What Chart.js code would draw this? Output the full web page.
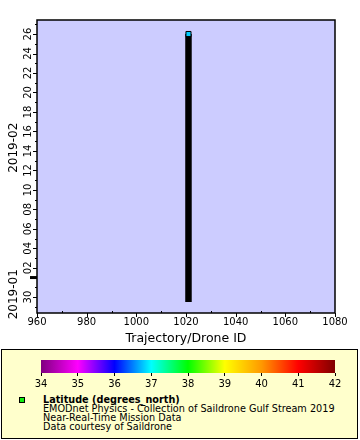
<!DOCTYPE html>
<html>
<head>
<meta charset="utf-8">
<script src="https://cdn.jsdelivr.net/npm/chart.js@4"></script>
<style>
  html,body{margin:0;padding:0;background:#fff;}
  #wrap{position:relative;width:360px;height:440px;overflow:hidden;font-family:"DejaVu Sans",sans-serif;}
  #main{position:absolute;left:0;top:0;}
  #legbox{position:absolute;left:1px;top:349px;width:357px;height:90px;box-sizing:border-box;background:#ffffcc;border:1px solid #000;}
  #cbar{position:absolute;left:0;top:349px;}
  #mark{position:absolute;left:19px;top:397px;width:6px;height:6px;box-sizing:border-box;background:#11ee11;border:1px solid #000;}
  #legtext{position:absolute;left:43px;top:395px;font-size:9.7px;line-height:9px;color:#000;white-space:nowrap;}
  #legtext b{font-weight:bold;}
</style>
</head>
<body>
<div id="wrap">
  <canvas id="main" width="360" height="349"></canvas>
  <div id="legbox"></div>
  <canvas id="cbar" width="360" height="45"></canvas>
  <div id="mark"></div>
  <div id="legtext"><b>Latitude (degrees_north)</b><br>EMODnet Physics - Collection of Saildrone Gulf Stream 2019<br>Near-Real-Time Mission Data<br>Data courtesy of Saildrone</div>
</div>
<script>
// track of drone 1021; time in days from 2019-02-01 00:00
const trackId=[1021,1021];
const trackDay=[-2.5,25.0];
const lastLat=36.8;

// time axis ticks (days from 2019-02-01)
const yMajor=[-2,1,3,5,7,9,11,13,15,17,19,21,23,25];
const yMajorLabels=['30','02','04','06','08','10','12','14','16','18','20','22','24','26'];
const yMinor=[-3,-1,2,4,6,8,10,12,14,16,18,20,22,24,26];
const monthBreak=0;
const months=[{t:'2019-01',from:-4,to:0},{t:'2019-02',from:0,to:27}];
const xMinor=[970,990,1010,1030,1050,1070];

// colour bar
const cbValues=[34,35,36,37,38,39,40,41,42];
const cbColors=['#800080','#ff00ff','#0000ff','#00ffff','#00ff00','#ffff00','#ff9900','#ff0000','#800000'];

function hex(c){return [parseInt(c.substr(1,2),16),parseInt(c.substr(3,2),16),parseInt(c.substr(5,2),16)];}
function colorOf(v){
  for(let i=0;i<cbValues.length-1;i++){
    if(v>=cbValues[i]&&v<=cbValues[i+1]){
      const f=(v-cbValues[i])/(cbValues[i+1]-cbValues[i]);
      const a=hex(cbColors[i]),b=hex(cbColors[i+1]);
      return 'rgb('+a.map((x,k)=>Math.round(x+(b[k]-x)*f)).join(',')+')';
    }
  }
  return '#000';
}

Chart.defaults.font.family='"DejaVu Sans", sans-serif';
Chart.defaults.color='#000';
Chart.defaults.animation=false;

const framePlugin={
  id:'frame',
  beforeDatasetsDraw(chart){
    const {ctx,chartArea:a}=chart;
    ctx.save(); ctx.fillStyle='#ccccff'; ctx.fillRect(a.left,a.top,a.right-a.left,a.bottom-a.top); ctx.restore();
  },
  afterDraw(chart){
    const {ctx,chartArea:a}=chart; const ys=chart.scales.y, xs=chart.scales.x;
    ctx.save();
    ctx.strokeStyle='#000'; ctx.lineWidth=1.5;
    ctx.strokeRect(a.left,a.top,a.right-a.left,a.bottom-a.top);
    ctx.lineWidth=1;
    ctx.beginPath();
    yMajor.forEach(v=>{const p=Math.round(ys.getPixelForValue(v))+0.5; ctx.moveTo(a.left-4,p); ctx.lineTo(a.left,p);});
    yMinor.forEach(v=>{const p=Math.round(ys.getPixelForValue(v))+0.5; ctx.moveTo(a.left-2,p); ctx.lineTo(a.left,p);});
    xs.ticks.forEach(t=>{const p=Math.round(xs.getPixelForValue(t.value))+0.5; ctx.moveTo(p,a.bottom); ctx.lineTo(p,a.bottom+4);});
    xMinor.forEach(v=>{const p=Math.round(xs.getPixelForValue(v))+0.5; ctx.moveTo(p,a.bottom); ctx.lineTo(p,a.bottom-2);});
    ctx.stroke();
    const mb=ys.getPixelForValue(monthBreak);
    ctx.lineWidth=3; ctx.beginPath(); ctx.moveTo(a.left-7,mb); ctx.lineTo(a.left,mb); ctx.stroke();
    ctx.fillStyle='#000'; ctx.textAlign='center'; ctx.textBaseline='middle';
    ctx.font='10px "DejaVu Sans"';
    yMajor.forEach((v,i)=>{
      ctx.save(); ctx.translate(28,ys.getPixelForValue(v)); ctx.rotate(-Math.PI/2);
      ctx.fillText(yMajorLabels[i],0,0); ctx.restore();
    });
    ctx.font='12px "DejaVu Sans"';
    months.forEach(m=>{
      const p1=Math.min(a.bottom,ys.getPixelForValue(m.from)), p2=Math.max(a.top,ys.getPixelForValue(m.to));
      ctx.save(); ctx.translate(14,(p1+p2)/2-1); ctx.rotate(-Math.PI/2);
      ctx.fillText(m.t,0,0); ctx.restore();
    });
    ctx.restore();
  }
};

new Chart(document.getElementById('main'),{
  type:'scatter',
  data:{datasets:[
    {order:1,data:trackId.map((x,i)=>({x,y:trackDay[i]})),showLine:true,borderColor:'#000',borderWidth:6.5,borderCapStyle:'butt',pointRadius:0},
    {order:0,data:[{x:trackId[trackId.length-1],y:trackDay[trackDay.length-1]}],pointStyle:'rect',pointRadius:3.6,pointBackgroundColor:colorOf(lastLat),pointBorderColor:'#000',pointBorderWidth:1}
  ]},
  options:{
    responsive:false,
    layout:{padding:{top:20,right:25,left:0,bottom:0}},
    plugins:{legend:{display:false},tooltip:{enabled:false}},
    scales:{
      x:{type:'linear',min:960,max:1080,
        ticks:{stepSize:20,padding:3,font:{size:10},color:'#000',callback:v=>String(v)},
        grid:{display:false,drawTicks:false},border:{display:false},
        title:{display:true,text:'Trajectory/Drone ID',font:{size:12.5},color:'#000',padding:{top:0,bottom:3}},
        afterFit(s){s.height=36;}},
      y:{type:'linear',min:-3.64,max:26.44,
        ticks:{display:false},grid:{display:false,drawTicks:false},border:{display:false},
        afterFit(s){s.width=37;}}
    }
  },
  plugins:[framePlugin]
});

const gradPlugin={
  id:'grad',
  beforeDraw(chart){
    const {ctx,chartArea:a}=chart; const xs=chart.scales.x;
    const g=ctx.createLinearGradient(a.left,0,a.right,0);
    cbValues.forEach((v,i)=>g.addColorStop((xs.getPixelForValue(v)-a.left)/(a.right-a.left),cbColors[i]));
    ctx.save(); ctx.fillStyle=g; ctx.fillRect(a.left,a.top,a.right-a.left,a.bottom-a.top); ctx.restore();
  }
};

new Chart(document.getElementById('cbar'),{
  type:'scatter',
  data:{datasets:[{data:[]}]},
  options:{
    responsive:false,
    layout:{padding:{top:11,right:25,left:41,bottom:0}},
    plugins:{legend:{display:false},tooltip:{enabled:false}},
    scales:{
      x:{type:'linear',min:34,max:42,
        ticks:{stepSize:1,padding:2,font:{size:10},color:'#000'},
        grid:{drawOnChartArea:false,drawTicks:true,tickLength:3,tickColor:'#000'},border:{display:false},
        afterFit(s){s.height=21;}},
      y:{display:false,min:0,max:1}
    }
  },
  plugins:[gradPlugin]
});
</script>
</body>
</html>
